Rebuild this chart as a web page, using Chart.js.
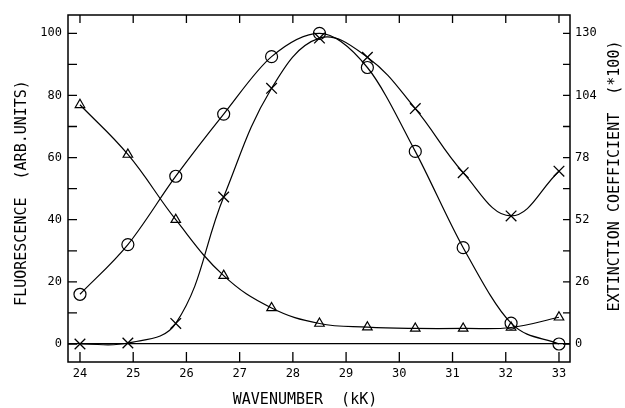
<!DOCTYPE html>
<html><head><meta charset="utf-8">
<script src="https://cdn.jsdelivr.net/npm/chart.js@4"></script>
<style>html,body{margin:0;padding:0;background:#fff}#wrap{width:625px;height:408px}</style>
</head><body><div id="wrap"><canvas id="c" width="625" height="408"></canvas></div>
<script>
// x values (wavenumber, kK)
const wavenumber = [24, 24.9, 25.8, 26.7, 27.6, 28.5, 29.4, 30.3, 31.2, 32.1, 33];
// fluorescence (arb. units), left axis
const circleSeries = [16, 32, 54, 74, 92.5, 100, 89, 62, 31, 6.7, 0];
const triangleSeries = [77, 61, 40, 22, 11.6, 6.6, 5.4, 5.0, 5.0, 5.3, 8.6];
// extinction coefficient (*100), right axis
const crossSeries = [0, 0.4, 8.6, 61.5, 107, 128, 120, 98.5, 71.7, 53.6, 72.3];

const xTicks = [24, 25, 26, 27, 28, 29, 30, 31, 32, 33];
const leftTicks = [0, 20, 40, 60, 80, 100];
const leftMinor = [10, 30, 50, 70, 90];
const rightTicks = [0, 26, 52, 78, 104, 130];
const rightMinor = [13, 39, 65, 91, 117];

const xTitle = 'WAVENUMBER  (kK)';
const leftTitle = 'FLUORESCENCE  (ARB.UNITS)';
const rightTitle = 'EXTINCTION COEFFICIENT  (*100)';

const FONT = "'DejaVu Sans Mono', 'Liberation Mono', monospace";
const pts = (ys) => wavenumber.map((x, i) => ({x, y: ys[i]}));

const framePlugin = {
  id: 'frame',
  afterDraw(chart) {
    const {ctx, chartArea: a, scales} = chart;
    ctx.save();
    ctx.strokeStyle = '#000';
    ctx.lineWidth = 1.5;
    ctx.strokeRect(a.left, a.top, a.right - a.left, a.bottom - a.top);
    ctx.lineWidth = 1.3;
    ctx.beginPath();
    xTicks.forEach(v => {
      const x = scales.x.getPixelForValue(v);
      ctx.moveTo(x, a.bottom); ctx.lineTo(x, a.bottom - 10);
      ctx.moveTo(x, a.top); ctx.lineTo(x, a.top + 8);
    });
    leftTicks.concat(leftMinor).forEach(v => {
      const y = scales.y.getPixelForValue(v);
      ctx.moveTo(a.left, y); ctx.lineTo(a.left + 9, y);
    });
    rightTicks.concat(rightMinor).forEach(v => {
      const y = scales.y1.getPixelForValue(v);
      ctx.moveTo(a.right, y); ctx.lineTo(a.right - 7, y);
    });
    ctx.stroke();
    // axis titles
    ctx.fillStyle = '#000';
    ctx.font = '15px ' + FONT;
    ctx.textAlign = 'center';
    ctx.textBaseline = 'middle';
    ctx.fillText(xTitle, 305, 400);
    ctx.save();
    ctx.translate(22, 193);
    ctx.rotate(-Math.PI / 2);
    ctx.fillText(leftTitle, 0, 0);
    ctx.restore();
    ctx.save();
    ctx.translate(615, 176);
    ctx.rotate(-Math.PI / 2);
    ctx.fillText(rightTitle, 0, 0);
    ctx.restore();
    ctx.restore();
  }
};

new Chart(document.getElementById('c'), {
  type: 'line',
  data: {
    datasets: [
      {
        label: 'circles', data: pts(circleSeries), yAxisID: 'y',
        borderColor: '#000', borderWidth: 1.2, cubicInterpolationMode: 'monotone',
        pointStyle: 'circle', pointRadius: 6, pointBorderWidth: 1.2,
        pointBackgroundColor: 'rgba(0,0,0,0)', pointBorderColor: '#000'
      },
      {
        label: 'triangles', data: pts(triangleSeries), yAxisID: 'y',
        borderColor: '#000', borderWidth: 1.2, tension: 0.4,
        pointStyle: 'triangle', pointRadius: 5.5, pointBorderWidth: 1.2,
        pointBackgroundColor: 'rgba(0,0,0,0)', pointBorderColor: '#000'
      },
      {
        label: 'crosses', data: pts(crossSeries), yAxisID: 'y1',
        borderColor: '#000', borderWidth: 1.2, tension: 0.4,
        pointStyle: 'crossRot', pointRadius: 7.5, pointBorderWidth: 1.3,
        pointBackgroundColor: 'rgba(0,0,0,0)', pointBorderColor: '#000'
      }
    ]
  },
  options: {
    responsive: false, animation: false,
    layout: {padding: {top: 15, left: 0, right: 0, bottom: 0}},
    plugins: {legend: {display: false}, tooltip: {enabled: false}},
    scales: {
      x: {
        type: 'linear', min: 23.775, max: 33.207,
        afterBuildTicks: s => { s.ticks = xTicks.map(v => ({value: v})); },
        afterFit: s => { s.height = 46; },
        grid: {display: false, drawTicks: false}, border: {display: false},
        ticks: {color: '#000', font: {family: FONT, size: 12}, padding: 5, maxRotation: 0, autoSkip: false}
      },
      y: {
        position: 'left', min: -5.8, max: 105.9,
        afterBuildTicks: s => { s.ticks = leftTicks.map(v => ({value: v})); },
        afterFit: s => { s.width = 68; },
        grid: {drawTicks: false, lineWidth: 1.3, color: c => (c.tick && c.tick.value === 0) ? '#000' : 'rgba(0,0,0,0)'},
        border: {display: false},
        ticks: {color: '#000', font: {family: FONT, size: 12}, padding: 6}
      },
      y1: {
        position: 'right', min: -7.54, max: 137.67,
        afterBuildTicks: s => { s.ticks = rightTicks.map(v => ({value: v})); },
        afterFit: s => { s.width = 55; },
        grid: {display: false, drawTicks: false}, border: {display: false},
        ticks: {color: '#000', font: {family: FONT, size: 12}, padding: 5}
      }
    }
  },
  plugins: [framePlugin]
});
</script>
</body></html>
